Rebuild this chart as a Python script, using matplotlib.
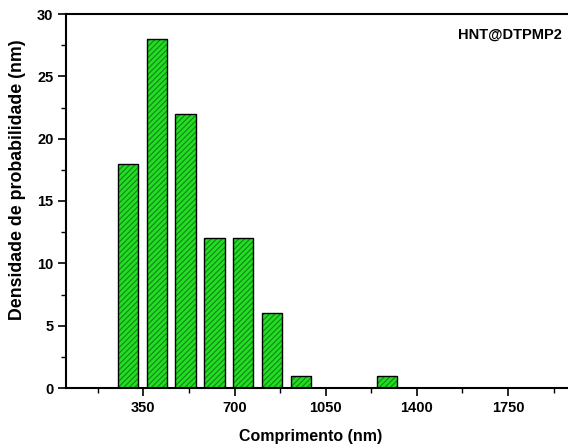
import numpy as np
import matplotlib
matplotlib.use("Agg")
import matplotlib.pyplot as plt
from matplotlib.ticker import MultipleLocator

# histogram of lengths: bin centres (nm) and counts
bin_centers = [291, 402, 512, 623, 733, 844, 955, 1065, 1176, 1286]
counts = [18, 28, 22, 12, 12, 6, 1, 0, 0, 1]
bar_width = 79

x_ticks = [350, 700, 1050, 1400, 1750]
sample_name = "HNT@DTPMP2"

plt.rcParams['font.family'] = ['Liberation Sans', 'DejaVu Sans']
plt.rcParams['font.weight'] = 'bold'
plt.rcParams['hatch.linewidth'] = 0.8

fig = plt.figure(figsize=(5.68, 4.47), dpi=100)
ax = fig.add_axes([66/568, 59/447, 1 - 66/568, 374/447])

# hatched fill first, then the black outline on top
ax.bar(bin_centers, counts, width=bar_width, color='#22dd22',
       edgecolor='#13851a', hatch='//////', linewidth=0)
ax.bar(bin_centers, counts, width=bar_width, fill=False,
       edgecolor='black', linewidth=1.0)

ax.set_xlim(53, 1980)
ax.set_ylim(0, 30)
ax.set_xticks(x_ticks)
ax.xaxis.set_minor_locator(MultipleLocator(175))
ax.yaxis.set_major_locator(MultipleLocator(5))
ax.yaxis.set_minor_locator(MultipleLocator(2.5))

ax.tick_params(which='major', direction='out', length=5.5, width=1.2,
               labelsize=10.5)
ax.tick_params(axis='x', which='major', pad=4)
ax.tick_params(which='minor', direction='out', length=3.5, width=1.0)
for s in ['left', 'bottom', 'top']:
    ax.spines[s].set_linewidth(1.5)
ax.spines['right'].set_visible(False)

ax.set_xlabel("Comprimento (nm)", fontsize=11.5, fontweight='bold')
ax.xaxis.set_label_coords(0.488, -0.110)
ax.set_ylabel("Densidade de probabilidade (nm)", fontsize=12.8,
              fontweight='bold')
ax.yaxis.set_label_coords(-0.08, 0.556)

ax.text(0.988, 0.963, sample_name, transform=ax.transAxes, ha='right',
        va='top', fontsize=10.5, fontweight='bold')

fig.savefig("out.png", dpi=100)
